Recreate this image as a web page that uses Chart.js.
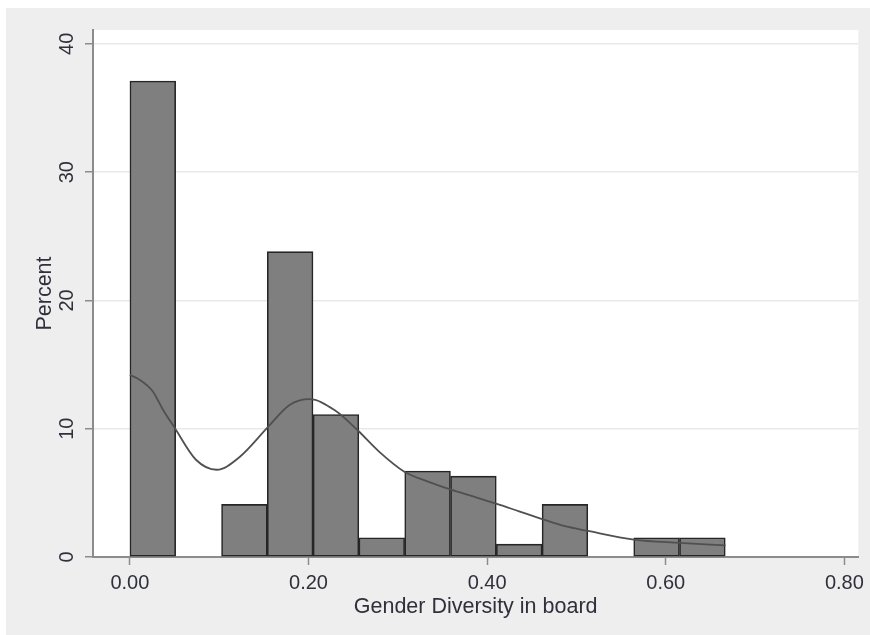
<!DOCTYPE html>
<html>
<head>
<meta charset="utf-8">
<title>Gender Diversity in board</title>
<script src="https://cdn.jsdelivr.net/npm/chart.js@4/dist/chart.umd.min.js"></script>
<style>
  html, body { margin: 0; padding: 0; background: #ffffff; }
  #wrap { width: 870px; height: 635px; }
</style>
</head>
<body>
<div id="wrap"><canvas id="hist" width="870" height="635"></canvas></div>
<script>
// Histogram: 13 equal bins over [0, 2/3]; empty bins are left out
const binWidth = 0.05128;
const binStarts = [0.0000, 0.1026, 0.1538, 0.2051, 0.2564, 0.3077, 0.3590, 0.4103, 0.4615, 0.5641, 0.6154];
const percent   = [37.1,   4.1,    23.8,   11.1,   1.5,    6.7,    6.3,    1.0,    4.1,    1.5,    1.5];

// Kernel density estimate, scaled to percent
const densityX = [0.000, 0.0112, 0.0257, 0.0369, 0.0503, 0.0737, 0.0972, 0.1229, 0.1542, 0.1788,
                  0.2011, 0.2291, 0.2547, 0.2793, 0.3073, 0.3330, 0.3587, 0.3844, 0.4101, 0.4358,
                  0.4615, 0.4860, 0.5117, 0.5642, 0.6156, 0.6670];
const densityY = [14.2, 13.8, 12.9, 11.5, 10.05, 7.6, 6.8, 7.8, 10.1, 11.85,
                  12.3, 11.45, 9.9, 8.2, 6.65, 5.9, 5.27, 4.72, 4.16, 3.56,
                  2.96, 2.42, 2.05, 1.36, 1.1, 0.9];

// Axis ticks and labels
const xTicks = [0, 0.2, 0.4, 0.6, 0.8];
const yTicks = [0, 10, 20, 30, 40];
const xTitle = 'Gender Diversity in board';
const yTitle = 'Percent';

const barData = binStarts.map((s, i) => ({ x: s + binWidth / 2, y: percent[i] }));
const lineData = densityX.map((x, i) => ({ x: x, y: densityY[i] }));

const FAMILY = "'Liberation Sans', Arial, sans-serif";
const TICK_FONT = { family: FAMILY, size: 20 };
const TITLE_FONT = { family: FAMILY, size: 21.5 };
const TEXT = '#30303c';
const AXIS = '#8c8c8c';

const backdrop = {
  id: 'backdrop',
  beforeDraw(chart) {
    const { ctx, chartArea: a } = chart;
    ctx.save();
    ctx.fillStyle = '#ffffff';
    ctx.fillRect(0, 0, chart.width, chart.height);
    ctx.fillStyle = '#eeeeee';
    ctx.fillRect(6, 8, chart.width - 6, chart.height - 8);
    ctx.fillStyle = '#ffffff';
    ctx.fillRect(a.left, a.top, a.right - a.left, a.bottom - a.top);
    ctx.restore();
  }
};

new Chart(document.getElementById('hist'), {
  type: 'bar',
  data: {
    datasets: [
      {
        type: 'line',
        data: lineData,
        borderColor: '#505050',
        borderWidth: 1.8,
        pointRadius: 0,
        fill: false,
        cubicInterpolationMode: 'monotone',
        order: 0
      },
      {
        type: 'bar',
        data: barData,
        backgroundColor: '#7f7f7f',
        borderColor: '#262626',
        borderWidth: 1.6,
        borderSkipped: false,
        barPercentage: 1,
        categoryPercentage: 1,
        order: 1
      }
    ]
  },
  options: {
    responsive: false,
    animation: false,
    devicePixelRatio: 1,
    layout: { padding: { left: 0, top: 30, right: 10, bottom: 0 } },
    plugins: { legend: { display: false }, tooltip: { enabled: false } },
    scales: {
      x: {
        type: 'linear',
        offset: false,
        min: -0.0413,
        max: 0.8156,
        afterBuildTicks(scale) { scale.ticks = xTicks.map(v => ({ value: v })); },
        afterFit(scale) { scale.height = 78; },
        grid: { offset: false, drawOnChartArea: false, drawTicks: true, tickLength: 8, tickColor: AXIS, tickWidth: 1.5 },
        border: { display: true, color: AXIS, width: 2 },
        ticks: {
          color: TEXT, font: TICK_FONT, padding: 6, maxRotation: 0, autoSkip: false,
          callback: v => v.toFixed(2)
        },
        title: { display: true, text: xTitle, color: TEXT, font: TITLE_FONT, padding: { top: 0, bottom: 15 } }
      },
      y: {
        type: 'linear',
        min: 0,
        max: 41.08,
        afterBuildTicks(scale) { scale.ticks = yTicks.map(v => ({ value: v })); },
        afterFit(scale) { scale.width = 93; },
        grid: {
          color: ctx => (ctx.tick && ctx.tick.value === 0) ? 'rgba(0,0,0,0)' : '#e9e9e9',
          lineWidth: 1.5,
          drawTicks: true, tickLength: 8, tickColor: AXIS, tickWidth: 1.5
        },
        border: { display: true, color: AXIS, width: 2 },
        ticks: {
          color: TEXT, font: TICK_FONT, padding: 6, minRotation: 90, maxRotation: 90,
          crossAlign: 'center', autoSkip: false,
          callback: v => String(v)
        },
        title: { display: true, text: yTitle, color: TEXT, font: TITLE_FONT, padding: { top: 32, bottom: 0 } }
      }
    }
  },
  plugins: [backdrop]
});
</script>
</body>
</html>
